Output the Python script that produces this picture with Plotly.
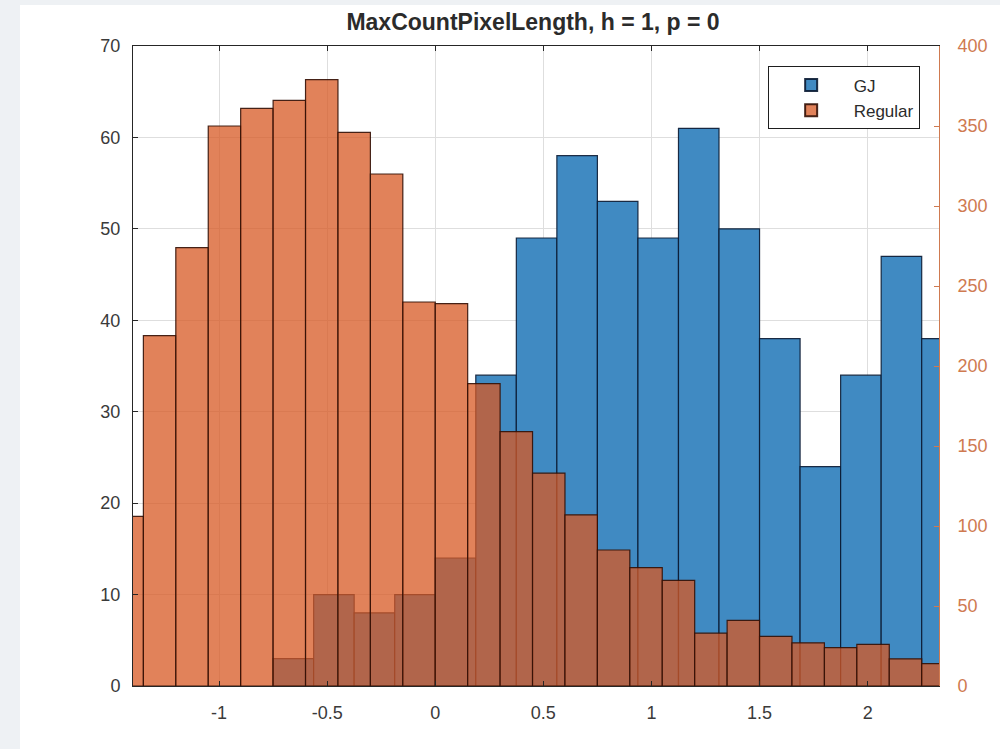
import numpy as np
import plotly.graph_objects as go

# ---- data ----
title_text = "MaxCountPixelLength, h = 1, p = 0"
series_names = ["GJ", "Regular"]

gj_first_edge = -0.75
gj_bin_width = 0.1875
gj_counts = [3, 10, 8, 10, 14, 34, 49, 58, 53, 49, 61, 50, 38, 24, 34, 47, 38]

reg_first_edge = -1.5
reg_bin_width = 0.15
reg_counts = [106, 219, 274, 350, 361, 366, 379, 346, 320, 240, 239, 189, 159, 133,
              107, 85, 74, 66, 33, 41, 31, 27, 24, 26, 17, 14]

x_ticks = [-1, -0.5, 0, 0.5, 1, 1.5, 2]
x_tick_labels = ["-1", "-0.5", "0", "0.5", "1", "1.5", "2"]
y_left_ticks = [0, 10, 20, 30, 40, 50, 60, 70]
y_right_ticks = [0, 50, 100, 150, 200, 250, 300, 350, 400]

# ---- styling ----
BLUE = "rgb(64,138,194)"
ORANGE = "rgba(215,88,35,0.75)"
AXIS_ORANGE = "#CF7A50"
TXT = "#2b2b2b"
W, H = 1000, 749
ML, MR, MT, MB = 133, 61, 46, 63
PW, PH = W - ML - MR, H - MT - MB

gj_left = gj_first_edge + gj_bin_width * np.arange(len(gj_counts))
reg_left = reg_first_edge + reg_bin_width * np.arange(len(reg_counts))

fig = go.Figure()
fig.add_trace(go.Bar(
    x=gj_left + gj_bin_width / 2, y=gj_counts, width=gj_bin_width,
    name=series_names[0], yaxis="y",
    marker=dict(color=BLUE, line=dict(color="rgba(10,25,50,0.9)", width=1.2)),
))
fig.add_trace(go.Bar(
    x=reg_left + reg_bin_width / 2, y=reg_counts, width=reg_bin_width,
    name=series_names[1], yaxis="y2",
    marker=dict(color=ORANGE, line=dict(color="rgba(50,15,5,0.9)", width=1.2)),
))

# light page border strips seen around the figure
fig.add_shape(type="rect", xref="paper", yref="paper", layer="below",
              x0=-ML / PW, x1=(-ML + 20) / PW, y0=-MB / PH, y1=(PH + MT) / PH,
              fillcolor="#EEF1F4", line=dict(width=0))
fig.add_shape(type="rect", xref="paper", yref="paper", layer="below",
              x0=-ML / PW, x1=(PW + MR) / PW, y0=(PH + MT - 5) / PH, y1=(PH + MT) / PH,
              fillcolor="#EEF1F4", line=dict(width=0))

fig.update_layout(
    width=W, height=H,
    margin=dict(l=ML, r=MR, t=MT, b=MB),
    paper_bgcolor="white", plot_bgcolor="white",
    barmode="overlay",
    font=dict(family="Liberation Sans, Arial, sans-serif", size=18, color=TXT),
    title=dict(text="<b>" + title_text + "</b>", x=0.533, xanchor="center",
               y=0.971, yanchor="middle", font=dict(size=23, color=TXT)),
    xaxis=dict(range=[-1.398, 2.33], tickvals=x_ticks, ticktext=x_tick_labels,
               showgrid=True, gridcolor="rgb(222,222,222)", gridwidth=1,
               showline=True, linecolor="rgb(38,38,38)", linewidth=1, mirror="ticks",
               ticks="inside", ticklen=5, tickcolor="rgb(38,38,38)",
               tickfont=dict(size=18, color="#3a3a3a"),
               ticklabelstandoff=10, zeroline=False, layer="above traces"),
    yaxis=dict(range=[0, 70], tickvals=y_left_ticks,
               showgrid=True, gridcolor="rgb(222,222,222)", gridwidth=1,
               showline=True, linecolor="rgb(38,38,38)", linewidth=1,
               ticks="inside", ticklen=5, tickcolor="rgb(38,38,38)",
               tickfont=dict(size=18, color="#3a3a3a"),
               ticklabelstandoff=8, zeroline=False),
    yaxis2=dict(range=[0, 400], tickvals=y_right_ticks, overlaying="y", side="right",
                showgrid=False, showline=True, linecolor=AXIS_ORANGE, linewidth=1,
                ticks="inside", ticklen=5, tickcolor=AXIS_ORANGE,
                tickfont=dict(color=AXIS_ORANGE, size=18),
                ticklabelstandoff=14, zeroline=False),
    legend=dict(x=0.976, y=0.968, xanchor="right", yanchor="top",
                bgcolor="white", bordercolor="rgb(30,30,30)", borderwidth=1,
                font=dict(size=17, color=TXT), traceorder="normal",
                itemwidth=75, itemsizing="constant"),
    showlegend=True,
)

fig.write_html("out.html")
